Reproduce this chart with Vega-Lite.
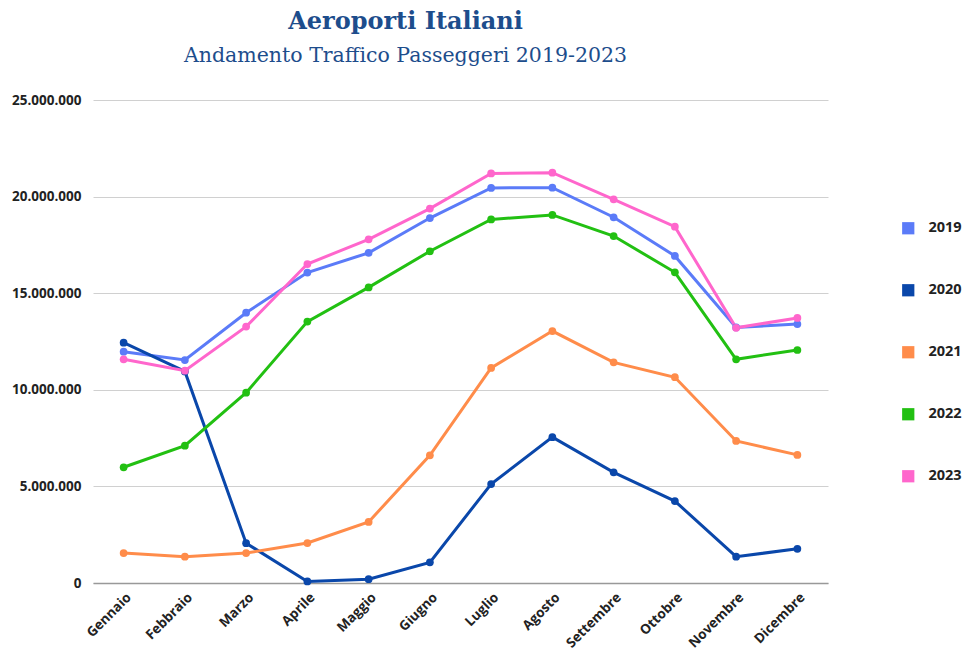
{
  "$schema": "https://vega.github.io/schema/vega-lite/v6.json",
  "width": 735,
  "height": 483,
  "autosize": {"type": "none"},
  "padding": {"left": 93, "top": 100, "right": 135, "bottom": 75},
  "background": "white",
  "title": {
    "text": "Aeroporti Italiani",
    "subtitle": "Andamento Traffico Passeggeri 2019-2023",
    "anchor": "middle",
    "dx": -55,
    "offset": 27,
    "font": "DejaVu Serif",
    "fontSize": 24,
    "fontWeight": "bold",
    "color": "#1d4d8c",
    "subtitleFont": "DejaVu Serif",
    "subtitleFontSize": 20.5,
    "subtitleColor": "#1d4d8c",
    "subtitlePadding": 12
  },
  "data": {
    "values": [
      {"mese": "Gennaio", "anno": "2019", "passeggeri": 11970000},
      {"mese": "Febbraio", "anno": "2019", "passeggeri": 11540000},
      {"mese": "Marzo", "anno": "2019", "passeggeri": 13990000},
      {"mese": "Aprile", "anno": "2019", "passeggeri": 16070000},
      {"mese": "Maggio", "anno": "2019", "passeggeri": 17090000},
      {"mese": "Giugno", "anno": "2019", "passeggeri": 18890000},
      {"mese": "Luglio", "anno": "2019", "passeggeri": 20450000},
      {"mese": "Agosto", "anno": "2019", "passeggeri": 20460000},
      {"mese": "Settembre", "anno": "2019", "passeggeri": 18930000},
      {"mese": "Ottobre", "anno": "2019", "passeggeri": 16930000},
      {"mese": "Novembre", "anno": "2019", "passeggeri": 13230000},
      {"mese": "Dicembre", "anno": "2019", "passeggeri": 13400000},
      {"mese": "Gennaio", "anno": "2020", "passeggeri": 12440000},
      {"mese": "Febbraio", "anno": "2020", "passeggeri": 10950000},
      {"mese": "Marzo", "anno": "2020", "passeggeri": 2060000},
      {"mese": "Aprile", "anno": "2020", "passeggeri": 80000},
      {"mese": "Maggio", "anno": "2020", "passeggeri": 200000},
      {"mese": "Giugno", "anno": "2020", "passeggeri": 1070000},
      {"mese": "Luglio", "anno": "2020", "passeggeri": 5120000},
      {"mese": "Agosto", "anno": "2020", "passeggeri": 7550000},
      {"mese": "Settembre", "anno": "2020", "passeggeri": 5730000},
      {"mese": "Ottobre", "anno": "2020", "passeggeri": 4240000},
      {"mese": "Novembre", "anno": "2020", "passeggeri": 1360000},
      {"mese": "Dicembre", "anno": "2020", "passeggeri": 1770000},
      {"mese": "Gennaio", "anno": "2021", "passeggeri": 1550000},
      {"mese": "Febbraio", "anno": "2021", "passeggeri": 1360000},
      {"mese": "Marzo", "anno": "2021", "passeggeri": 1550000},
      {"mese": "Aprile", "anno": "2021", "passeggeri": 2070000},
      {"mese": "Maggio", "anno": "2021", "passeggeri": 3160000},
      {"mese": "Giugno", "anno": "2021", "passeggeri": 6610000},
      {"mese": "Luglio", "anno": "2021", "passeggeri": 11130000},
      {"mese": "Agosto", "anno": "2021", "passeggeri": 13040000},
      {"mese": "Settembre", "anno": "2021", "passeggeri": 11420000},
      {"mese": "Ottobre", "anno": "2021", "passeggeri": 10650000},
      {"mese": "Novembre", "anno": "2021", "passeggeri": 7350000},
      {"mese": "Dicembre", "anno": "2021", "passeggeri": 6630000},
      {"mese": "Gennaio", "anno": "2022", "passeggeri": 5990000},
      {"mese": "Febbraio", "anno": "2022", "passeggeri": 7110000},
      {"mese": "Marzo", "anno": "2022", "passeggeri": 9850000},
      {"mese": "Aprile", "anno": "2022", "passeggeri": 13530000},
      {"mese": "Maggio", "anno": "2022", "passeggeri": 15300000},
      {"mese": "Giugno", "anno": "2022", "passeggeri": 17170000},
      {"mese": "Luglio", "anno": "2022", "passeggeri": 18820000},
      {"mese": "Agosto", "anno": "2022", "passeggeri": 19050000},
      {"mese": "Settembre", "anno": "2022", "passeggeri": 17960000},
      {"mese": "Ottobre", "anno": "2022", "passeggeri": 16080000},
      {"mese": "Novembre", "anno": "2022", "passeggeri": 11580000},
      {"mese": "Dicembre", "anno": "2022", "passeggeri": 12060000},
      {"mese": "Gennaio", "anno": "2023", "passeggeri": 11580000},
      {"mese": "Febbraio", "anno": "2023", "passeggeri": 10990000},
      {"mese": "Marzo", "anno": "2023", "passeggeri": 13270000},
      {"mese": "Aprile", "anno": "2023", "passeggeri": 16510000},
      {"mese": "Maggio", "anno": "2023", "passeggeri": 17790000},
      {"mese": "Giugno", "anno": "2023", "passeggeri": 19380000},
      {"mese": "Luglio", "anno": "2023", "passeggeri": 21200000},
      {"mese": "Agosto", "anno": "2023", "passeggeri": 21240000},
      {"mese": "Settembre", "anno": "2023", "passeggeri": 19860000},
      {"mese": "Ottobre", "anno": "2023", "passeggeri": 18440000},
      {"mese": "Novembre", "anno": "2023", "passeggeri": 13210000},
      {"mese": "Dicembre", "anno": "2023", "passeggeri": 13720000}
    ]
  },
  "mark": {"type": "line", "strokeWidth": 3, "point": {"filled": true, "size": 60, "opacity": 1}},
  "encoding": {
    "x": {
      "field": "mese",
      "type": "ordinal",
      "sort": ["Gennaio", "Febbraio", "Marzo", "Aprile", "Maggio", "Giugno", "Luglio", "Agosto", "Settembre", "Ottobre", "Novembre", "Dicembre"],
      "scale": {"type": "point", "padding": 0.5},
      "axis": {
        "title": null,
        "labelAngle": -45,
        "labelAlign": "right",
        "labelBaseline": "top",
        "labelFont": "Open Sans",
        "labelFontWeight": "bold",
        "labelFontSize": 13.5,
        "labelColor": "#222222",
        "labelPadding": 7,
        "ticks": false,
        "domain": true,
        "domainColor": "#999999",
        "domainWidth": 1.5,
        "grid": false
      }
    },
    "y": {
      "field": "passeggeri",
      "type": "quantitative",
      "scale": {"domain": [0, 25000000], "nice": false},
      "axis": {
        "title": null,
        "values": [0, 5000000, 10000000, 15000000, 20000000, 25000000],
        "labelExpr": "replace(format(datum.value, ','), /,/g, '.')",
        "labelFont": "Open Sans",
        "labelFontWeight": "bold",
        "labelFontSize": 13.5,
        "labelColor": "#222222",
        "labelPadding": 12,
        "ticks": false,
        "domain": false,
        "grid": true,
        "gridColor": "#d0d0d0",
        "gridWidth": 1
      }
    },
    "color": {
      "field": "anno",
      "type": "nominal",
      "scale": {
        "domain": ["2019", "2020", "2021", "2022", "2023"],
        "range": ["#5b7bf8", "#0a47aa", "#ff8c4a", "#22c012", "#ff66cc"]
      },
      "legend": {
        "title": null,
        "orient": "none",
        "legendX": 808,
        "legendY": 121,
        "symbolType": "square",
        "symbolSize": 150,
        "symbolStrokeWidth": 0,
        "symbolOpacity": 1,
        "rowPadding": 47,
        "labelFont": "Open Sans",
        "labelFontWeight": "bold",
        "labelFontSize": 14.5,
        "labelColor": "#222222",
        "labelOffset": 13
      }
    }
  },
  "config": {"view": {"stroke": null}}
}
